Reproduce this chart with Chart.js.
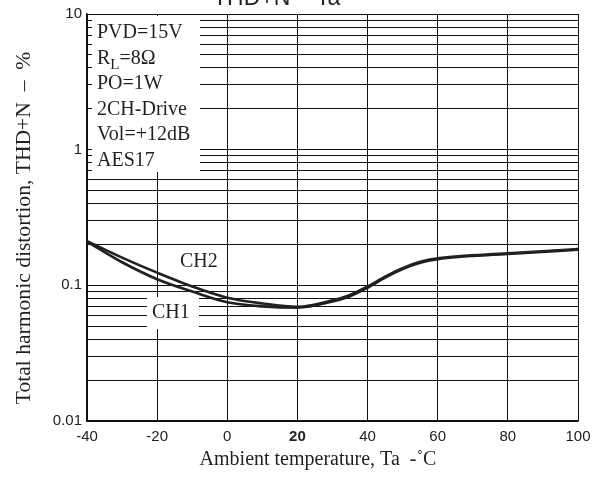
<!DOCTYPE html>
<html>
<head>
<meta charset="utf-8">
<script src="https://cdn.jsdelivr.net/npm/chart.js@4"></script>
<style>
  html, body { margin: 0; padding: 0; background: #fff; }
  #thd { display: block; }
</style>
</head>
<body>
<canvas id="thd" width="606" height="501"></canvas>
<script>
// values
const temps = [-40, -30, -20, -10, 0, 10, 20, 30, 35, 40, 45, 50, 55, 60, 80, 100];
const ch2 = [0.212, 0.160, 0.124, 0.098, 0.081, 0.0735, 0.0695, 0.0775, 0.085, 0.098, 0.116, 0.134, 0.149, 0.158, 0.172, 0.185];
const ch1 = [0.210, 0.148, 0.111, 0.090, 0.075, 0.0700, 0.0685, 0.0760, 0.083, 0.096, 0.114, 0.132, 0.147, 0.156, 0.170, 0.183];

const xTicks = [-40, -20, 0, 20, 40, 60, 80, 100];
const yTicks = [0.01, 0.02, 0.03, 0.04, 0.05, 0.06, 0.07, 0.08, 0.09,
                0.1, 0.2, 0.3, 0.4, 0.5, 0.6, 0.7, 0.8, 0.9,
                1, 2, 3, 4, 5, 6, 7, 8, 9, 10];
const yLabels = { 0.01: '0.01', 0.1: '0.1', 1: '1', 10: '10' };

const conditions = ['PVD=15V', 'R_L=8Ω', 'PO=1W', '2CH-Drive', 'Vol=+12dB', 'AES17'];

const serif = '"Liberation Serif", "Times New Roman", serif';
const sans = '"Liberation Sans", Arial, sans-serif';
const ink = '#231f20';

// boxes, text and titles that sit on top of the grid
const notes = {
  id: 'notes',
  beforeDatasetsDraw(chart) {
    const ctx = chart.ctx;
    const a = chart.chartArea;
    ctx.save();
    ctx.fillStyle = '#fff';
    ctx.fillRect(a.left + 5, a.top + 2, 108, 156);
    ctx.fillRect(a.left + 60, a.top + 283, 52, 32);
    ctx.restore();
  },
  afterDraw(chart) {
    const ctx = chart.ctx;
    const a = chart.chartArea;
    ctx.save();
    ctx.fillStyle = ink;
    ctx.textBaseline = 'alphabetic';
    ctx.textAlign = 'left';

    // chart title, mostly cut off at the top edge
    ctx.font = '23px ' + sans;
    ctx.fillText('THD+N – Ta', 213, 5);

    // test conditions
    ctx.font = '20px ' + serif;
    conditions.forEach(function(t, i) {
      const y = a.top + 24 + i * 25.6;
      const x = a.left + 10;
      if (t.indexOf('_') > 0) {
        const parts = t.split('_');
        ctx.fillText(parts[0], x, y);
        let w = ctx.measureText(parts[0]).width;
        const rest = parts[1];
        ctx.font = '15px ' + serif;
        ctx.fillText(rest[0], x + w, y + 5);
        w += ctx.measureText(rest[0]).width;
        ctx.font = '20px ' + serif;
        ctx.fillText(rest.slice(1), x + w, y);
      } else {
        ctx.fillText(t, x, y);
      }
    });

    // channel labels
    ctx.fillText('CH2', a.left + 93, a.top + 253);
    ctx.fillText('CH1', a.left + 65, a.top + 304);

    // axis titles
    ctx.textAlign = 'center';
    ctx.textBaseline = 'middle';
    ctx.fillText('Ambient temperature, Ta  -˚C', 318, 460);
    ctx.font = '21.6px ' + serif;
    ctx.translate(24, 228);
    ctx.rotate(-Math.PI / 2);
    ctx.fillText('Total harmonic distortion, THD+N  –  %', 0, 0);
    ctx.restore();
  }
};

const ctx = document.getElementById('thd').getContext('2d');
const chart = new Chart(ctx, {
  type: 'line',
  data: {
    datasets: [
      { label: 'CH2', data: temps.map((t, i) => ({ x: t, y: ch2[i] })), borderColor: ink, borderWidth: 2.6, pointRadius: 0, cubicInterpolationMode: 'monotone' },
      { label: 'CH1', data: temps.map((t, i) => ({ x: t, y: ch1[i] })), borderColor: ink, borderWidth: 2.6, pointRadius: 0, cubicInterpolationMode: 'monotone' }
    ]
  },
  options: {
    responsive: false,
    animation: false,
    layout: { padding: { left: 0, right: 28, top: 14, bottom: 0 } },
    plugins: { legend: { display: false }, tooltip: { enabled: false } },
    scales: {
      x: {
        type: 'linear',
        min: -40,
        max: 100,
        afterBuildTicks: function(scale) { scale.ticks = xTicks.map(v => ({ value: v })); },
        afterFit: function(scale) { scale.height = 80; },
        grid: { color: '#111', lineWidth: 1, drawTicks: false },
        border: { color: '#111', width: 1.5 },
        ticks: {
          padding: 7,
          color: '#222',
          font: function(c) {
            return { family: sans, size: 15, weight: c.tick && c.tick.value === 20 ? 'bold' : 'normal' };
          }
        }
      },
      y: {
        type: 'logarithmic',
        min: 0.01,
        max: 10,
        afterBuildTicks: function(scale) { scale.ticks = yTicks.map(v => ({ value: v })); },
        afterFit: function(scale) { scale.width = 87; },
        grid: { color: '#111', lineWidth: 1, drawTicks: false },
        border: { color: '#111', width: 1.5 },
        ticks: {
          padding: 5,
          color: '#222',
          autoSkip: false,
          font: { family: sans, size: 15 },
          callback: function(v) { return yLabels[v] || ''; }
        }
      }
    }
  },
  plugins: [notes]
});
</script>
</body>
</html>
